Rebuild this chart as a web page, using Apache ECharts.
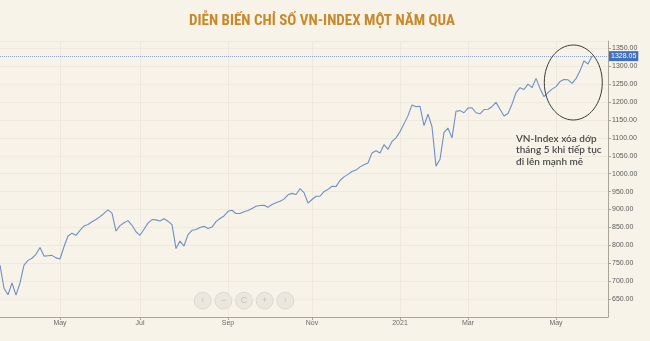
<!DOCTYPE html>
<html><head><meta charset="utf-8">
<script src="https://cdn.jsdelivr.net/npm/echarts@6/dist/echarts.min.js"></script>
<style>html,body{margin:0;padding:0;background:#f7f3e8}#c{width:650px;height:341px}</style>
</head><body><div id="c"></div>
<script>
// VN-Index closing values, one point per two trading sessions
const values = [
745,680,662,695,661,695,745,758,764,775,794,770,771,772,765,762,796,826,834,828,
842,854,858,866,872,880,889,899,890,840,855,863,869,856,838,828,845,862,872,871,
868,874,867,858,791,812,798,830,842,844,850,853,847,851,866,875,882,895,898,889,
889,894,897,903,909,911,912,906,914,919,923,929,941,945,942,958,947,918,928,937,
937,950,956,965,964,981,991,998,1006,1010,1019,1025,1030,1058,1064,1058,1081,1068,1090,1100,
1117,1139,1162,1192,1187,1188,1134,1166,1131,1021,1040,1115,1127,1100,1174,1176,1170,1183,1184,1170,
1167,1179,1180,1187,1199,1180,1161,1168,1194,1226,1240,1235,1250,1240,1266,1238,1215,1226,1236,1243,
1257,1263,1262,1252,1265,1287,1315,1306,1328.05
];
const slotCount = 153; // session slots on the axis (includes empty room at the right)
const categories = Array.from({length: slotCount}, (_, i) => String(i));
const tickIndex = [15, 35, 57, 78, 100, 117, 139];
const tickLabels = ['May', 'Jul', 'Sep', 'Nov', '2021', 'Mar', 'May'];
const lastValue = 1328.05;
const titleText = 'DIỄN BIẾN CHỈ SỐ VN-INDEX MỘT NĂM QUA';
const noteLines = ['VN-Index xóa dớp', 'tháng 5 khi tiếp tục', 'đi lên mạnh mẽ'];
const navSymbols = ['‹', '−', 'C', '+', '›'];

const isTick = (i) => tickIndex.indexOf(i) >= 0;
const chart = echarts.init(document.getElementById('c'), null, {renderer: 'canvas'});

const navGraphics = [];
navSymbols.forEach((s, i) => {
  const cx = 202.7 + i * 20.65, cy = 300.7;
  navGraphics.push({type: 'circle', shape: {cx, cy, r: 8.5}, z: 20,
    style: {fill: '#ebe7de', stroke: '#dedad1', lineWidth: 1}});
  navGraphics.push({type: 'text', x: cx, y: cy, z: 21,
    style: {text: s, fill: '#c4c0b7', fontSize: 9, fontFamily: 'Liberation Sans', align: 'center', verticalAlign: 'middle'}});
});

chart.setOption({
  backgroundColor: '#f7f3e8',
  animation: false,
  title: {
    text: titleText, left: 184, top: 9,
    textStyle: {color: '#c8892b', fontSize: 15, fontWeight: 'bold',
      fontFamily: '"Roboto Condensed","Liberation Sans Narrow","DejaVu Sans Condensed",Roboto,sans-serif'}
  },
  grid: {left: 0, right: 42, top: 41.1, bottom: 24, containLabel: false},
  xAxis: {
    type: 'category', data: categories, boundaryGap: false,
    axisLine: {lineStyle: {color: '#a9a598', width: 1}},
    axisTick: {show: true, length: 3, interval: (i) => isTick(i), lineStyle: {color: '#a9a598'}},
    axisLabel: {interval: (i) => isTick(i), formatter: (v, i) => tickLabels[tickIndex.indexOf(Number(v))] || '',
      color: '#6b6b6b', fontSize: 7, margin: 3, fontFamily: 'Liberation Sans'},
    splitLine: {show: true, interval: (i) => isTick(i), lineStyle: {color: '#eee9dc', width: 1}}
  },
  yAxis: {
    type: 'value', position: 'right', min: 600, max: 1370, interval: 50,
    axisLine: {show: true, lineStyle: {color: '#a9a598', width: 1}},
    axisTick: {show: true, length: 3, lineStyle: {color: '#a9a598'}},
    axisLabel: {showMinLabel: false, showMaxLabel: false, formatter: (v) => v.toFixed(2),
      color: '#5a5a5a', fontSize: 7, margin: 4, fontFamily: 'Liberation Sans'},
    splitLine: {show: true, lineStyle: {color: '#eee9dc', width: 1}}
  },
  series: [{
    type: 'line', data: values, showSymbol: false, smooth: false,
    lineStyle: {color: '#6f8fc6', width: 1.1},
    markLine: {
      silent: true, symbol: ['none', 'none'],
      lineStyle: {color: '#8ea2d2', type: 'dotted', width: 1},
      label: {position: 'end', distance: 1, formatter: () => lastValue.toFixed(2),
        color: '#ffffff', backgroundColor: '#3f6fbd', padding: [2, 2, 1, 2], fontSize: 7, fontFamily: 'Liberation Sans'},
      data: [{yAxis: lastValue}]
    }
  }],
  graphic: [
    {type: 'ellipse', shape: {cx: 573.3, cy: 82.5, rx: 29, ry: 37.5}, z: 10,
      style: {fill: 'none', stroke: '#3c3c3c', lineWidth: 1}},
    {type: 'text', x: 516, y: 133, z: 10,
      style: {text: noteLines.join('\n'), fill: '#4a4a4a', fontSize: 10, lineHeight: 11.5,
        fontFamily: 'Lato, "Open Sans", sans-serif', fontWeight: 600, verticalAlign: 'top'}}
  ].concat(navGraphics)
});
</script></body></html>
